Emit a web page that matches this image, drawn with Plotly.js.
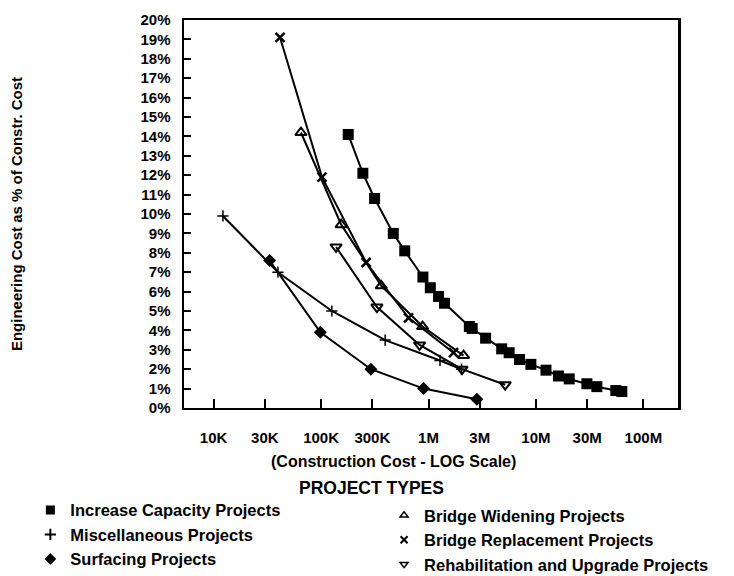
<!DOCTYPE html>
<html>
<head>
<meta charset="utf-8">
<script src="https://cdn.plot.ly/plotly-3.0.1.min.js"></script>
<style>html,body{margin:0;padding:0;background:#fff;}#chart{width:734px;height:576px;}</style>
</head>
<body>
<div id="chart"></div>
<script>
// Construction cost (dollars) and engineering cost (% of construction cost)
var capacityX = [179e3, 245e3, 315e3, 470e3, 601e3, 887e3, 1.04e6, 1.24e6, 1.41e6, 2.40e6, 2.55e6, 3.40e6, 4.80e6, 5.63e6, 7.03e6, 8.97e6, 12.4e6, 16.2e6, 20.4e6, 29.8e6, 36.9e6, 55.4e6, 63e6];
var capacityY = [14.1, 12.1, 10.8, 9.0, 8.1, 6.75, 6.2, 5.75, 5.4, 4.2, 4.1, 3.6, 3.05, 2.85, 2.5, 2.25, 1.95, 1.65, 1.5, 1.25, 1.1, 0.9, 0.85];
var miscX = [12.2e3, 39.7e3, 126e3, 395e3, 1.28e6, 2.03e6];
var miscY = [9.9, 7.0, 5.0, 3.5, 2.45, 2.0];
var surfX = [33.2e3, 98.5e3, 291e3, 900e3, 2.82e6];
var surfY = [7.6, 3.9, 2.0, 1.0, 0.45];
var widenX = [65e3, 154e3, 363e3, 881e3, 2.12e6];
var widenY = [14.2, 9.45, 6.3, 4.2, 2.7];
var replX = [41.5e3, 102e3, 263e3, 652e3, 1.71e6];
var replY = [19.1, 11.9, 7.5, 4.65, 2.85];
var rehabX = [138e3, 331e3, 826e3, 2.05e6, 5.17e6];
var rehabY = [8.3, 5.2, 3.25, 2.0, 1.2];

var xTickVals = [1e4, 3e4, 1e5, 3e5, 1e6, 3e6, 1e7, 3e7, 1e8];
var xTickText = ['10K', '30K', '100K', '300K', '1M', '3M', '10M', '30M', '100M'];
var yTickVals = [0,1,2,3,4,5,6,7,8,9,10,11,12,13,14,15,16,17,18,19,20];
var yTickText = yTickVals.map(function(v){ return v + '%'; });

var names = ['Increase Capacity Projects', 'Miscellaneous Projects', 'Surfacing Projects',
             'Bridge Widening Projects', 'Bridge Replacement Projects', 'Rehabilitation and Upgrade Projects'];

var FONT = 'Liberation Sans, Arial, Helvetica, sans-serif';
var INK = '#000';

function series(x, y, sym, size, lw) {
  return {
    x: x, y: y, type: 'scatter', mode: 'lines+markers', showlegend: false,
    line: {color: INK, width: 2},
    marker: {symbol: sym, size: size, color: INK, line: {color: INK, width: lw}},
    hoverinfo: 'x+y'
  };
}
function legendEntry(name, sym, size, lw, leg) {
  return {
    x: [null], y: [null], type: 'scatter', mode: 'markers', name: name, legend: leg,
    marker: {symbol: sym, size: size, color: INK, line: {color: INK, width: lw}}
  };
}

var data = [
  series(capacityX, capacityY, 'square', 11, 0),
  series(miscX, miscY, 'cross-thin', 8, 1.5),
  series(surfX, surfY, 'diamond', 10, 0),
  series(widenX, widenY, 'triangle-up-open', 10, 2),
  series(replX, replY, 'x-thin', 9, 2.5),
  series(rehabX, rehabY, 'triangle-down-open', 10, 2),
  legendEntry(names[0], 'square', 9, 0, 'legend'),
  legendEntry(names[1], 'cross-thin', 8, 2, 'legend'),
  legendEntry(names[2], 'diamond', 9, 0, 'legend'),
  legendEntry(names[3], 'triangle-up-open', 7, 1.5, 'legend2'),
  legendEntry(names[4], 'x-thin', 7, 2, 'legend2'),
  legendEntry(names[5], 'triangle-down-open', 7, 1.5, 'legend2')
];

var legendFont = {family: FONT, size: 16.5, color: INK, weight: 'bold'};
var layout = {
  width: 734, height: 576,
  paper_bgcolor: '#fff', plot_bgcolor: '#fff',
  margin: {l: 184, r: 56, t: 20, b: 168, pad: 0, autoexpand: false},
  font: {family: FONT, color: INK},
  xaxis: {
    type: 'log', range: [Math.log10(5300), Math.log10(2.1e8)],
    tickmode: 'array', tickvals: xTickVals, ticktext: xTickText,
    ticks: 'inside', ticklen: 9, tickwidth: 2, tickcolor: INK,
    showline: true, linewidth: 2, linecolor: INK, mirror: true,
    showgrid: false, zeroline: false,
    tickfont: {family: FONT, size: 15, color: INK, weight: 'bold'},
    ticklabelstandoff: 15
  },
  yaxis: {
    range: [0, 20],
    tickmode: 'array', tickvals: yTickVals, ticktext: yTickText,
    ticks: 'inside', ticklen: 7, tickwidth: 2, tickcolor: INK,
    showline: true, linewidth: 2.5, linecolor: INK, mirror: true,
    showgrid: false, zeroline: false,
    tickfont: {family: FONT, size: 15, color: INK, weight: 'bold'},
    ticklabelstandoff: 8,
    title: {text: 'Engineering Cost as % of Constr. Cost', standoff: 114,
            font: {family: FONT, size: 15, color: INK, weight: 'bold'}}
  },
  annotations: [
    {text: '(Construction Cost - LOG Scale)', xref: 'paper', yref: 'paper',
     x: 0.425, y: -0.139, xanchor: 'center', yanchor: 'middle', showarrow: false,
     font: {family: FONT, size: 16, color: INK, weight: 'bold'}},
    {text: 'PROJECT TYPES', xref: 'paper', yref: 'paper',
     x: 0.379, y: -0.206, xanchor: 'center', yanchor: 'middle', showarrow: false,
     font: {family: FONT, size: 17.5, color: INK, weight: 'bold'}}
  ],
  legend: {x: -0.311, y: -0.435, xanchor: 'left', yanchor: 'bottom',
           orientation: 'v', font: legendFont, bgcolor: 'rgba(0,0,0,0)', tracegroupgap: 0},
  legend2: {x: 0.405, y: -0.4485, xanchor: 'left', yanchor: 'bottom',
            orientation: 'v', font: legendFont, bgcolor: 'rgba(0,0,0,0)', tracegroupgap: 0},
  showlegend: true
};

Plotly.newPlot('chart', data, layout, {displayModeBar: false, staticPlot: true});
</script>
</body>
</html>
